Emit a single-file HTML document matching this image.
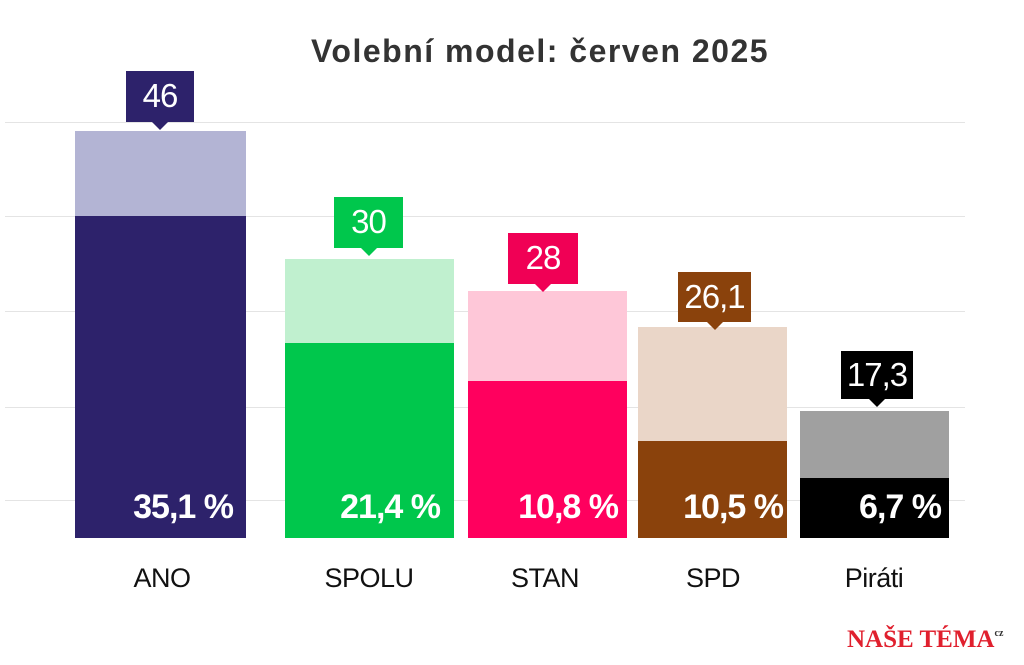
<!DOCTYPE html>
<html><head><meta charset="utf-8"><style>
body{margin:0;width:1024px;height:665px;background:#fff;position:relative;overflow:hidden;font-family:"Liberation Sans",sans-serif}
.a{position:absolute}
.g{position:absolute;left:5px;width:960px;height:1px;background:#e4e4e4}
.bar{position:absolute}
.lab{position:absolute;color:#fff;font-size:33px;text-align:center;line-height:50px;letter-spacing:-1px}
.lab:after{content:"";position:absolute;left:50%;bottom:-8px;margin-left:-8px;border-left:8px solid transparent;border-right:8px solid transparent;border-top:8px solid var(--c)}
.pct{position:absolute;color:#fff;font-weight:bold;font-size:34px;text-align:right;letter-spacing:-1px}
.cat{position:absolute;font-size:27px;color:#111;text-align:center;width:200px;letter-spacing:-0.5px}
</style></head><body>
<div class="a" style="left:0;width:1080px;top:33px;text-align:center;font-weight:bold;font-size:32px;letter-spacing:1.5px;color:#333">Volební model: červen 2025</div>
<div class="g" style="top:122px"></div><div class="g" style="top:216px"></div><div class="g" style="top:311px"></div><div class="g" style="top:407px"></div><div class="g" style="top:500px"></div>

<div class="bar" style="left:75px;width:171px;top:131px;height:85px;background:#b3b4d4"></div>
<div class="bar" style="left:75px;width:171px;top:216px;height:322px;background:#2d226b"></div>
<div class="lab" style="--c:#2d226b;background:#2d226b;left:126px;width:68px;top:71px;height:51px">46</div>
<div class="pct" style="left:75px;width:158px;top:488px">35,1 %</div>

<div class="bar" style="left:285px;width:169px;top:259px;height:84px;background:#c0f0cf"></div>
<div class="bar" style="left:285px;width:169px;top:343px;height:195px;background:#00c74c"></div>
<div class="lab" style="--c:#00c74c;background:#00c74c;left:334px;width:69px;top:197px;height:51px">30</div>
<div class="pct" style="left:285px;width:155px;top:488px">21,4 %</div>

<div class="bar" style="left:468px;width:159px;top:291px;height:90px;background:#fec7d8"></div>
<div class="bar" style="left:468px;width:159px;top:381px;height:157px;background:#ff005e"></div>
<div class="lab" style="--c:#f00055;background:#f00055;left:508px;width:70px;top:233px;height:51px">28</div>
<div class="pct" style="left:468px;width:150px;top:488px">10,8 %</div>

<div class="bar" style="left:638px;width:149px;top:327px;height:114px;background:#ead6c8"></div>
<div class="bar" style="left:638px;width:149px;top:441px;height:97px;background:#8a420c"></div>
<div class="lab" style="--c:#8a420c;background:#8a420c;left:678px;width:73px;top:272px;height:50px">26,1</div>
<div class="pct" style="left:638px;width:145px;top:488px">10,5 %</div>

<div class="bar" style="left:800px;width:149px;top:411px;height:67px;background:#a0a0a0"></div>
<div class="bar" style="left:800px;width:149px;top:478px;height:60px;background:#000"></div>
<div class="lab" style="--c:#000;background:#000;left:841px;width:72px;top:351px;height:48px;line-height:48px">17,3</div>
<div class="pct" style="left:800px;width:141px;top:488px">6,7 %</div>

<div class="cat" style="left:62px;top:563px">ANO</div>
<div class="cat" style="left:269px;top:563px">SPOLU</div>
<div class="cat" style="left:445px;top:563px">STAN</div>
<div class="cat" style="left:613px;top:563px">SPD</div>
<div class="cat" style="left:774px;top:563px">Piráti</div>

<div class="a" style="left:847px;top:626px;font-family:'Liberation Serif',serif;font-weight:bold;font-size:25px;color:#e0202e;letter-spacing:0">NAŠE TÉMA<span style="font-size:10px;vertical-align:top;position:relative;top:2px;color:#333">cz</span></div>
</body></html>
